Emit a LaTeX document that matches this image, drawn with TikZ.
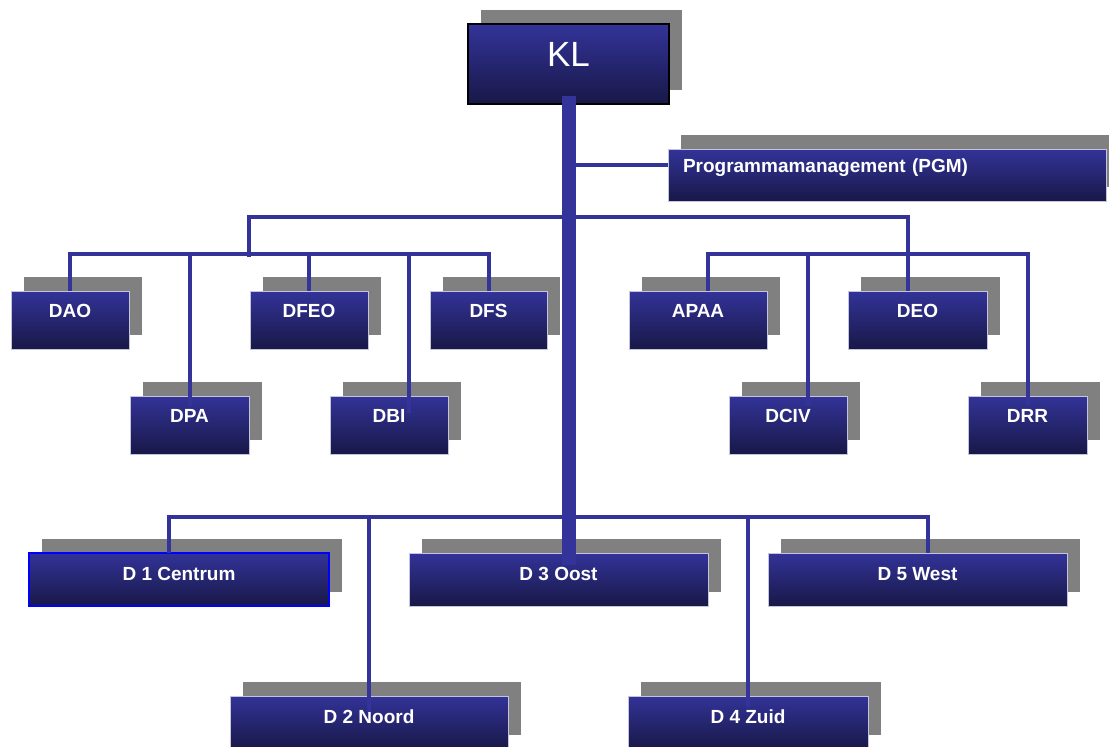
\documentclass[tikz,border=0pt]{standalone}
\usepackage{fontspec}
\setmainfont{Liberation Sans}
\usepackage{xcolor}
\usetikzlibrary{shadows,calc}
\definecolor{boxtop}{RGB}{51,51,153}
\definecolor{boxbot}{RGB}{24,24,72}
\definecolor{linkblue}{RGB}{51,51,153}
\definecolor{shadowgray}{RGB}{128,128,128}
\definecolor{boxedge}{RGB}{196,196,220}

\begin{document}
\begin{tikzpicture}[
  x=1pt, y=-1pt,
  unit/.style 2 args={draw=boxedge, line width=0.8pt, top color=boxtop, bottom color=boxbot,
    general shadow={fill=shadowgray, shadow xshift=13pt, shadow yshift=14pt},
    anchor=north west, inner sep=0pt, outer sep=0pt, minimum width=#1,
    text height=26pt, text depth=#2, text=white, font=\fontsize{19}{22}\selectfont\bfseries},
  district/.style={unit={#1}{26pt}, text height=27pt},
  link/.style={draw=linkblue, line width=4pt},
  trunk/.style={draw=linkblue, line width=14pt},
]
\useasboundingbox (0,0) rectangle (1109,747);

% Nodes
\node[unit={201pt}{38pt}, text height=42pt, draw=black, line width=1.5pt, font=\fontsize{35}{40}\selectfont] (kl) at (468,24) {KL};
\node[unit={438pt}{29pt}, text height=23pt, text width=408pt, inner xsep=15pt, align=left] (pgm) at (668,149) {Programmamanagement (PGM)};

\node[unit={118pt}{32pt}] (dao) at (11,291) {DAO};
\node[unit={118pt}{32pt}] (dfeo) at (250,291) {DFEO};
\node[unit={117pt}{32pt}] (dfs) at (430,291) {DFS};
\node[unit={138pt}{32pt}] (apaa) at (629,291) {APAA};
\node[unit={139pt}{32pt}] (deo) at (848,291) {DEO};

\node[unit={119pt}{32pt}] (dpa) at (130,396) {DPA};
\node[unit={118pt}{32pt}] (dbi) at (330,396) {DBI};
\node[unit={118pt}{32pt}] (dciv) at (729,396) {DCIV};
\node[unit={119pt}{32pt}] (drr) at (968,396) {DRR};

\node[district=300pt, draw=blue, line width=1.5pt] (d1) at (29,553) {D 1 Centrum};
\node[district=299pt] (d3) at (409,553) {D 3 Oost};
\node[district=299pt] (d5) at (768,553) {D 5 West};
\node[district=278pt] (d2) at (230,696) {D 2 Noord};
\node[district=240pt] (d4) at (628,696) {D 4 Zuid};

% Lines
\coordinate (lhub) at (249,257);
\coordinate (rhub) at (908,254);
\draw[link] (lhub) -- ++(0,-40) -| (rhub);
\draw[link] ([yshift=10pt]pgm.west) -- ++(-100,0);

\draw[link] (dao.north) -- ++(0,-37) -| (dfs.north);
\draw[link] (dfeo.north) -- ++(0,-37);
\draw[link] ([yshift=-10pt]dpa.north) -- ++(0,-152);
\draw[link] ([xshift=20pt,yshift=-17pt]dbi.north) -- ++(0,-159);

\draw[link] ([xshift=10pt]apaa.north) -- ++(0,-37) -| ([yshift=-9pt]drr.north);
\draw[link] ([xshift=-9.5pt]deo.north) -- ++(0,-37);
\draw[link] ([xshift=20pt,yshift=-10pt]dciv.north) -- ++(0,-152);

\draw[link] ([xshift=-10pt]d1.north) -- ++(0,-36) -| ([xshift=10.5pt]d5.north);
\draw[link] ([yshift=-16pt]d2.north) -- ++(0,-195);
\draw[link] ([yshift=-11pt]d4.north) -- ++(0,-190);

\draw[trunk] ([yshift=8pt]kl.south) -- ($(kl.south |- d3.north)+(0,12)$);
\end{tikzpicture}
\end{document}
